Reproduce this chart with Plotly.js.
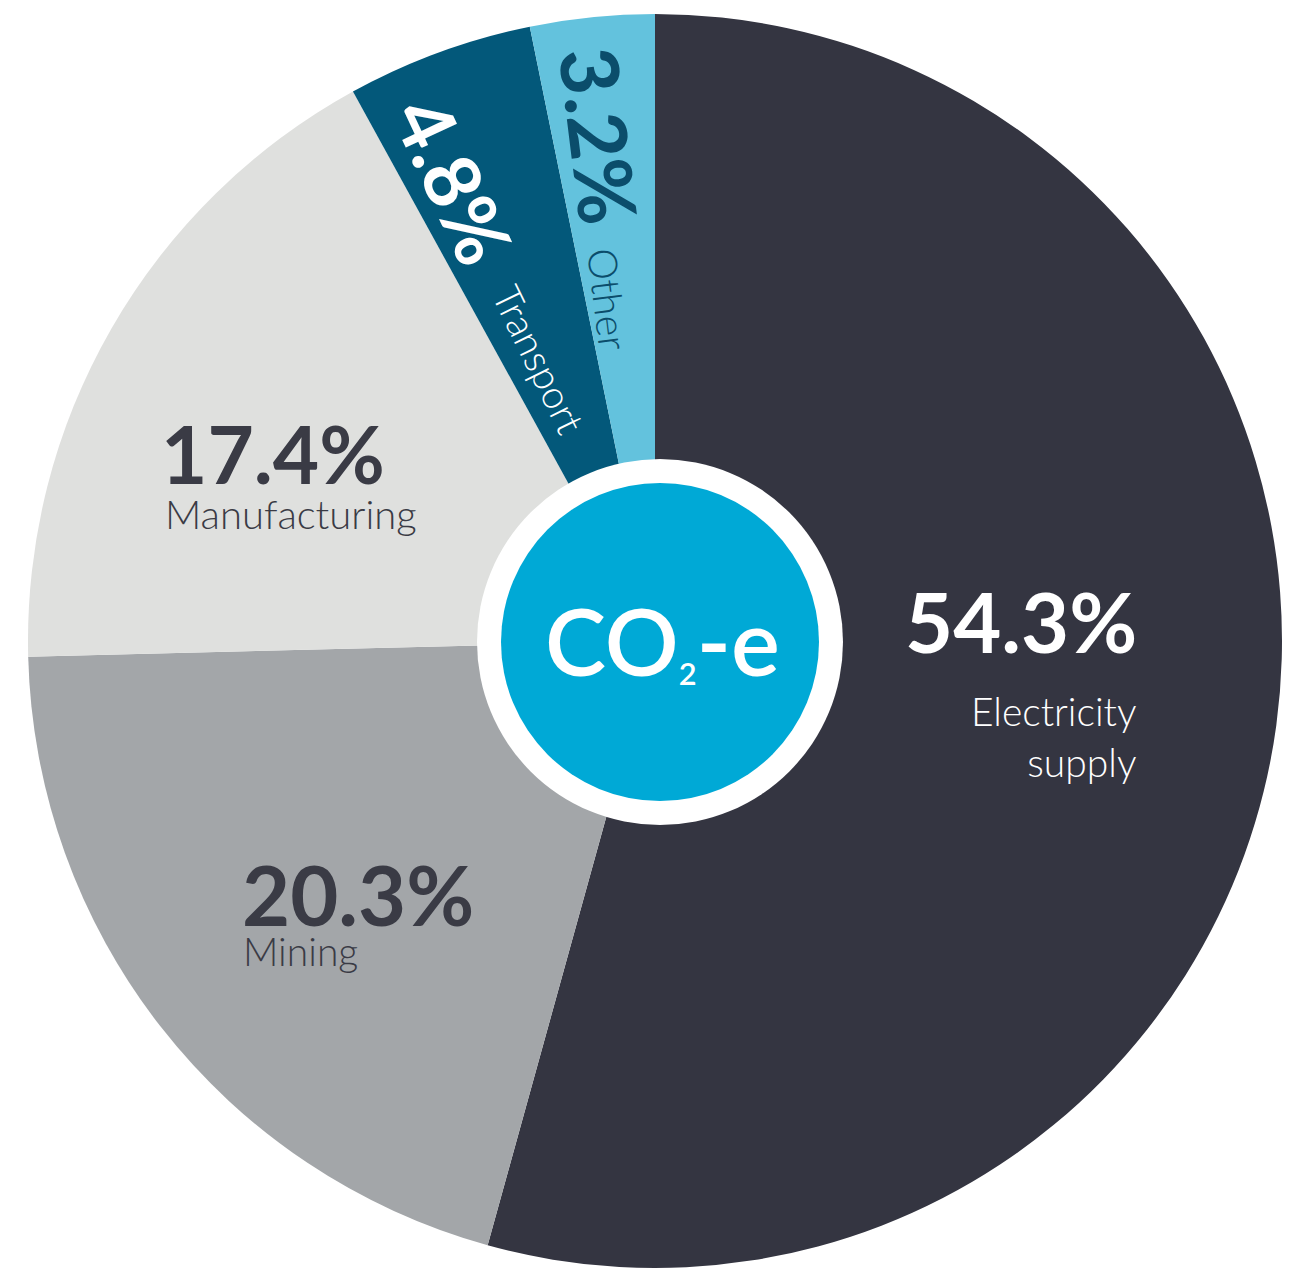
<!DOCTYPE html>
<html>
<head>
<meta charset="utf-8">
<script src="https://cdn.plot.ly/plotly-3.0.1.min.js"></script>
<style>html,body{margin:0;padding:0;background:#fff;}#chart{width:1307px;height:1270px;}</style>
</head>
<body>
<div id="chart"></div>
<script>
// ---- data ----
const categories = ['Electricity supply', 'Mining', 'Manufacturing', 'Transport', 'Other'];
const shares = [54.3, 20.3, 17.4, 4.8, 3.2];
const sliceColors = ['#343541', '#a3a6a9', '#dfe0de', '#03587a', '#63c2dd'];
const centerLabel = 'CO<span style="font-size:44px"><sub>2</sub></span>-e';

// ---- geometry helpers (pixels -> paper) ----
const W = 1307, H = 1270;
const px = v => v / W;
const py = v => 1 - v / H;
const pieCx = 655, pieCy = 641, pieR = 627;

const FONT = 'Lato, "Noto Sans", sans-serif';
const dark = '#3a3b45';
const teal = '#0b4d6b';

function pctText(i) { return shares[i].toFixed(1) + '%'; }

const annotations = [
  // Electricity supply
  {x: px(1139), y: py(621), xanchor: 'right', yanchor: 'middle', text: pctText(0),
   font: {family: FONT, size: 83, color: '#ffffff', weight: 700}},
  {x: px(1139), y: py(686), xanchor: 'right', yanchor: 'top', align: 'right',
   text: 'Electricity<br>supply',
   font: {family: FONT, size: 39, color: '#ffffff', weight: 300}},
  // Mining
  {x: px(240), y: py(894), xanchor: 'left', yanchor: 'middle', text: pctText(1),
   font: {family: FONT, size: 83, color: dark, weight: 700}},
  {x: px(241), y: py(951), xanchor: 'left', yanchor: 'middle', text: categories[1],
   font: {family: FONT, size: 39, color: dark, weight: 300}},
  // Manufacturing
  {x: px(159), y: py(453), xanchor: 'left', yanchor: 'middle', text: pctText(2),
   font: {family: FONT, size: 80, color: dark, weight: 700}},
  {x: px(163), y: py(514), xanchor: 'left', yanchor: 'middle', text: categories[2],
   font: {family: FONT, size: 40, color: dark, weight: 300}},
  // Transport (rotated)
  {x: px(454), y: py(180), xanchor: 'center', yanchor: 'middle', text: pctText(3), textangle: 65,
   font: {family: FONT, size: 78, color: '#ffffff', weight: 700}},
  {x: px(539), y: py(359), xanchor: 'center', yanchor: 'middle', text: categories[3], textangle: 64,
   font: {family: FONT, size: 39, color: '#ffffff', weight: 300}},
  // Other (rotated)
  {x: px(600), y: py(135), xanchor: 'center', yanchor: 'middle', text: pctText(4), textangle: 83,
   font: {family: FONT, size: 80, color: teal, weight: 700}},
  {x: px(608), y: py(299), xanchor: 'center', yanchor: 'middle', text: categories[4], textangle: 83,
   font: {family: FONT, size: 40, color: teal, weight: 300}},
  // centre label
  {x: px(662), y: py(640), xanchor: 'center', yanchor: 'middle', text: centerLabel,
   font: {family: FONT, size: 92, color: '#ffffff', weight: 600}}
];

annotations.forEach(a => { a.xref = 'paper'; a.yref = 'paper'; a.showarrow = false; });

const ringCx = 660, ringCy = 642;
const shapes = [
  {type: 'circle', xref: 'paper', yref: 'paper', layer: 'above',
   x0: px(ringCx - 183), x1: px(ringCx + 183), y0: py(ringCy + 183), y1: py(ringCy - 183),
   fillcolor: '#ffffff', line: {width: 0}},
  {type: 'circle', xref: 'paper', yref: 'paper', layer: 'above',
   x0: px(ringCx - 159), x1: px(ringCx + 159), y0: py(ringCy + 159), y1: py(ringCy - 159),
   fillcolor: '#00a9d6', line: {width: 0}}
];

const trace = {
  type: 'pie',
  labels: categories,
  values: shares,
  sort: false,
  direction: 'clockwise',
  rotation: 0,
  textinfo: 'none',
  hoverinfo: 'label+percent',
  marker: {colors: sliceColors, line: {width: 0}},
  domain: {x: [px(pieCx - pieR), px(pieCx + pieR)], y: [py(pieCy + pieR), py(pieCy - pieR)]},
  showlegend: false
};

const layout = {
  width: W, height: H,
  margin: {l: 0, r: 0, t: 0, b: 0},
  paper_bgcolor: '#ffffff',
  plot_bgcolor: '#ffffff',
  showlegend: false,
  annotations: annotations,
  shapes: shapes
};

Plotly.newPlot('chart', [trace], layout, {displayModeBar: false, staticPlot: true});
</script>
</body>
</html>
